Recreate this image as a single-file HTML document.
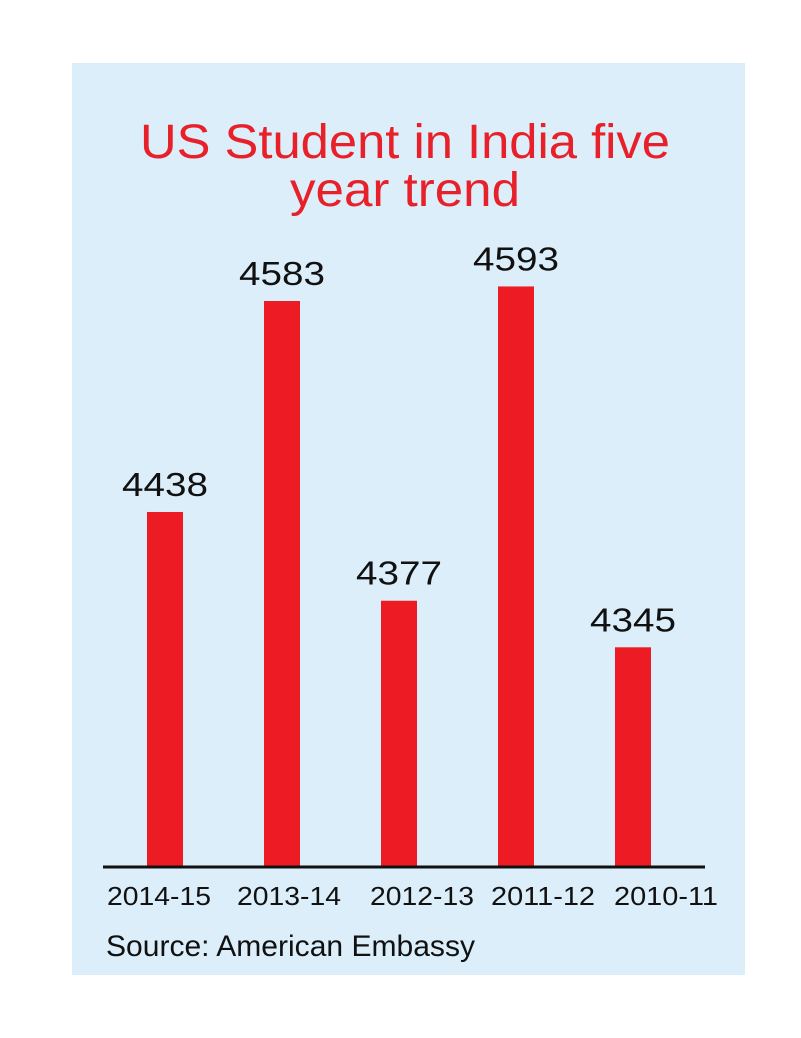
<!DOCTYPE html>
<html><head><meta charset="utf-8"><style>
body{margin:0;background:#fff;width:801px;height:1033px;overflow:hidden;font-family:"Liberation Sans",sans-serif}
</style></head><body>
<svg width="801" height="1033">
<rect x="72" y="63" width="673" height="912" fill="#dbeefa"/>
<text x="140" y="158" textLength="530" lengthAdjust="spacingAndGlyphs" font-size="48" fill="#e8202a">US Student in India five</text>
<text x="290" y="206" textLength="230" lengthAdjust="spacingAndGlyphs" font-size="48" fill="#e8202a">year trend</text>
<g id="bars"></g>
<line x1="103" y1="867" x2="705" y2="867" stroke="#111" stroke-width="3"/>
<text x="106" y="956" textLength="369" lengthAdjust="spacingAndGlyphs" font-size="30" fill="#111">Source: American Embassy</text>
</svg>
<script>
const categories=["2014-15","2013-14","2012-13","2011-12","2010-11"];
const values=[4438,4583,4377,4593,4345];
const baseVal=4194, pxPer=1.455, baseY=867;
const y=v=>baseY-(v-baseVal)*pxPer;
const xc=i=>165+i*117;
const lc=[159,289,422,543,666];
const g=document.getElementById('bars');
const ns='http://www.w3.org/2000/svg';
values.forEach((v,i)=>{
  const r=document.createElementNS(ns,'rect');
  r.setAttribute('x',xc(i)-18);r.setAttribute('width',36);
  r.setAttribute('y',y(v));r.setAttribute('height',baseY-y(v));
  r.setAttribute('fill','#ed1c24');
  
  
  g.appendChild(r);
  const t=document.createElementNS(ns,'text');
  t.setAttribute('x',xc(i)-43);t.setAttribute('y',y(v)-16);
  t.setAttribute('textLength','86');t.setAttribute('lengthAdjust','spacingAndGlyphs');
  t.setAttribute('font-size','33');t.setAttribute('fill','#111');
  t.textContent=v;
  
  
  g.appendChild(t);
  const c=document.createElementNS(ns,'text');
  c.setAttribute('x',lc[i]-52);c.setAttribute('y',905);
  c.setAttribute('textLength','104');c.setAttribute('lengthAdjust','spacingAndGlyphs');
  c.setAttribute('font-size','26');c.setAttribute('fill','#111');
  c.textContent=categories[i];
  
  
  g.appendChild(c);
});
</script>
</body></html>
